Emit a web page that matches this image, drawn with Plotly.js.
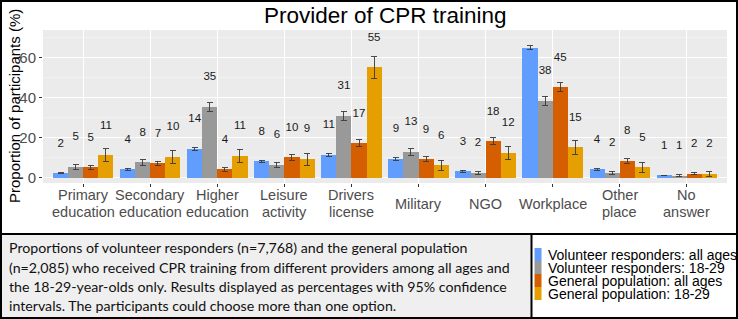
<!DOCTYPE html>
<html>
<head>
<meta charset="utf-8">
<script src="https://cdn.plot.ly/plotly-3.0.1.min.js"></script>
<style>
  html, body { margin: 0; padding: 0; background: #ffffff; }
  #chart { width: 738px; height: 319px; }
</style>
</head>
<body>
<div id="chart"></div>
<script>
// ---- data ----
const categories = ["Primary education", "Secondary education", "Higher education", "Leisure activity",
  "Drivers license", "Military", "NGO", "Workplace", "Other place", "No answer"];
const tickLabels = ["Primary<br>education", "Secondary<br>education", "Higher<br>education", "Leisure<br>activity",
  "Drivers<br>license", "Military", "NGO", "Workplace", "Other<br>place", "No<br>answer"];
const seriesNames = ["Volunteer responders: all ages", "Volunteer responders: 18-29",
  "General population: all ages", "General population: 18-29"];
const volAll      = [2.2, 4.2, 14.4, 8.2, 11.4, 9.4, 3.2, 64.8, 4.1, 1.1];
const volAllCI    = [0.3, 0.4, 0.8, 0.6, 0.7, 0.6, 0.4, 1.0, 0.4, 0.2];
const vol1829     = [5.3, 7.6, 35.3, 6.4, 30.8, 12.8, 2.4, 38.4, 2.4, 1.0];
const vol1829CI   = [1.2, 1.3, 2.2, 1.3, 2.1, 1.6, 0.7, 2.2, 0.7, 0.5];
const genAll      = [5.2, 7.1, 4.1, 10.1, 17.2, 9.2, 18.2, 45.1, 8.3, 2.0];
const genAllCI    = [1.0, 1.1, 0.9, 1.3, 1.7, 1.3, 1.7, 2.2, 1.2, 0.6];
const gen1829     = [11.2, 10.4, 11.0, 9.3, 55.0, 6.2, 12.3, 15.2, 5.2, 2.0];
const gen1829CI   = [3.3, 3.3, 3.2, 3.0, 5.3, 2.6, 3.3, 3.6, 2.5, 1.3];
const captionLines = [
  "Proportions of volunteer responders (n=7,768) and the general population",
  "(n=2,085) who received CPR training from different providers among all ages and",
  "the 18-29-year-olds only. Results displayed as percentages with 95% confidence",
  "intervals. The participants could choose more than one option."
];
const chartTitle = "Provider of CPR training";
const yTitle = "Proportion of participants (%)";

// ---- styles ----
const colors = ["#619CFF", "#999999", "#D55E00", "#E69F00"];
const W = 738, H = 319;
const px = v => v / W;          // page px -> paper x
const py = v => 1 - v / H;      // page px -> paper y
const dodge = 0.9, nS = 4, barW = dodge / nS;
const labelNudge = 14.7;
const sans = "Liberation Sans, Arial, sans-serif";

const values = [volAll, vol1829, genAll, gen1829];
const cis = [volAllCI, vol1829CI, genAllCI, gen1829CI];
const catPos = categories.map((c, i) => i + 1);

const traces = [];
values.forEach((vals, s) => {
  const off = -dodge / 2 + barW * (s + 0.5);
  const xs = catPos.map(p => p + off);
  traces.push({
    type: "bar", x: xs, y: vals, width: barW, name: seriesNames[s],
    marker: { color: colors[s], line: { width: 0 } },
    error_y: { type: "data", array: cis[s], visible: true, color: "#3a3a3a", thickness: 0.9, width: 3 },
    showlegend: false, hoverinfo: "skip"
  });
  traces.push({
    type: "scatter", mode: "text", x: xs, y: vals.map(v => v + labelNudge),
    text: vals.map(v => String(Math.round(v))), textposition: "middle center",
    textfont: { family: sans, size: 11.5, color: "#1a1a1a" },
    cliponaxis: true, showlegend: false, hoverinfo: "skip"
  });
});

const shapes = [
  { type: "rect", xref: "paper", yref: "paper", x0: 0, x1: px(531.5), y0: py(319), y1: py(234), fillcolor: "#EFEFEF", line: { width: 0 }, layer: "below" },
  { type: "line", xref: "paper", yref: "paper", x0: 0, x1: 1, y0: py(234), y1: py(234), line: { color: "#000", width: 2 } },
  { type: "line", xref: "paper", yref: "paper", x0: px(531.5), x1: px(531.5), y0: py(234), y1: 0, line: { color: "#000", width: 2 } },
  { type: "rect", xref: "paper", yref: "paper", x0: px(1), x1: px(737), y0: py(318), y1: py(1), line: { color: "#000", width: 2 }, fillcolor: "rgba(0,0,0,0)" }
];

const annotations = [
  { text: chartTitle, xref: "paper", yref: "paper", x: px(385), y: py(15.5), xanchor: "center", yanchor: "middle", showarrow: false,
    font: { family: sans, size: 22.5, color: "#000" } },
  { text: yTitle, xref: "paper", yref: "paper", x: px(14.5), y: py(106.5), xanchor: "center", yanchor: "middle", textangle: -90, showarrow: false,
    font: { family: sans, size: 15, color: "#000" } }
];
// category axis labels, centred vertically like the reference
tickLabels.forEach((lab, i) => {
  const lines = lab.split("<br>");
  const ys = lines.length === 2 ? [195, 212] : [203.5];
  lines.forEach((t, k) => {
    annotations.push({ text: t, xref: "x", yref: "paper", x: catPos[i], y: py(ys[k]), xanchor: "center", yanchor: "middle", showarrow: false,
      font: { family: sans, size: 14.5, color: "#4D4D4D" } });
  });
});
const capY = [248, 267, 286, 305];
captionLines.forEach((t, i) => {
  annotations.push({ text: t, xref: "paper", yref: "paper", x: px(7), y: py(capY[i]), xanchor: "left", yanchor: "middle", showarrow: false,
    font: { family: "Lato, sans-serif", size: 14.2, color: "#111" } });
});
const legTop = 248, legH = 13;
seriesNames.forEach((n, i) => {
  const y0 = legTop + i * legH;
  shapes.push({ type: "rect", xref: "paper", yref: "paper", x0: px(534.5), x1: px(541.5), y0: py(y0 + legH), y1: py(y0), fillcolor: colors[i], line: { width: 0 } });
  annotations.push({ text: n, xref: "paper", yref: "paper", x: px(545.5), y: py(y0 + legH / 2 + 0.5), xanchor: "left", yanchor: "middle", showarrow: false,
    font: { family: sans, size: 14, color: "#000" } });
});

const layout = {
  width: W, height: H,
  margin: { l: 0, r: 0, t: 0, b: 0 },
  paper_bgcolor: "#ffffff", plot_bgcolor: "#EBEBEB",
  showlegend: false,
  bargap: 0,
  xaxis: {
    domain: [px(43), px(727)], range: [0.4, 10.6],
    tickmode: "array", tickvals: catPos, ticktext: tickLabels, showticklabels: false,
    ticks: "outside", ticklen: 3, tickcolor: "#333", tickwidth: 1,
    showgrid: true, gridcolor: "#ffffff", gridwidth: 1, zeroline: false, showline: false
  },
  yaxis: {
    domain: [py(183), py(30)], range: [-2.65, 73.7],
    tickmode: "linear", tick0: 0, dtick: 20,
    ticks: "outside", ticklen: 3, tickcolor: "#333", tickwidth: 1,
    showgrid: true, gridcolor: "#ffffff", gridwidth: 1, zeroline: false, showline: false,
    minor: { dtick: 10, tick0: 0, showgrid: true, gridcolor: "#F6F6F6", gridwidth: 0.6, ticks: "" },
    tickfont: { family: sans, size: 15, color: "#4D4D4D" }
  },
  shapes: shapes,
  annotations: annotations
};

Plotly.newPlot("chart", traces, layout, { displayModeBar: false, staticPlot: true });
</script>
</body>
</html>
